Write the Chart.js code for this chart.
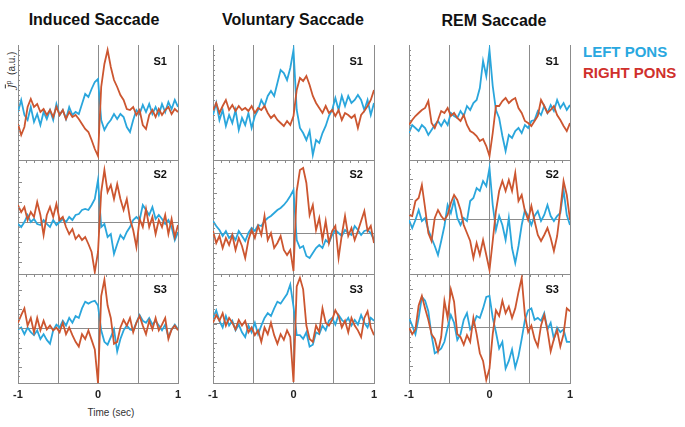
<!DOCTYPE html>
<html>
<head>
<meta charset="utf-8">
<script src="https://cdn.jsdelivr.net/npm/chart.js@4.4.0/dist/chart.umd.min.js"></script>
<style>
  body { margin: 0; background: #fff; font-family: Arial, "Liberation Sans", sans-serif; }
  #wrap { position: relative; width: 685px; height: 427px; overflow: hidden; }
  #wrap canvas { position: absolute; }
  .txt { position: absolute; white-space: nowrap; line-height: 1; }
  .title { font-size: 16px; font-weight: bold; color: #111; transform: translate(-50%, -50%); }
  .sl { font-size: 11px; font-weight: bold; color: #111; transform: translate(-100%, -50%); }
  .leg { font-size: 15px; font-weight: bold; transform: translateY(-50%); }
</style>
</head>
<body>
<div id="wrap">
  <div class="txt title" style="left:94px; top:20px;">Induced Saccade</div>
  <div class="txt title" style="left:293px; top:20px;">Voluntary Saccade</div>
  <div class="txt title" style="left:494px; top:21px;">REM Saccade</div>

  <div class="txt leg" style="left:583px; top:51px; color:#29a8e0;">LEFT PONS</div>
  <div class="txt leg" style="left:583px; top:72px; color:#d0302c;">RIGHT PONS</div>

  <div class="txt" style="left:11px; top:70px; transform:translate(-50%,-50%) rotate(-90deg); font-size:10px; color:#333;">
    <i style="text-decoration:overline; font-family:'DejaVu Serif',serif;">J</i><sup style="font-size:7px;">p</sup>&nbsp;&nbsp;(a.u.)
  </div>
  <div class="txt" style="left:111px; top:413px; transform:translate(-50%,-50%); font-size:10px; color:#333;">Time (sec)</div>
</div>

<script>
// time axis (sec)
const TIME = [-1, -0.96, -0.92, -0.88, -0.84, -0.8, -0.76, -0.72, -0.68, -0.64,
  -0.6, -0.56, -0.52, -0.48, -0.44, -0.4, -0.36, -0.32, -0.28, -0.24,
  -0.2, -0.16, -0.12, -0.08, -0.04, 0, 0.04, 0.08, 0.12, 0.16,
  0.2, 0.24, 0.28, 0.32, 0.36, 0.4, 0.44, 0.48, 0.52, 0.56,
  0.6, 0.64, 0.68, 0.72, 0.76, 0.8, 0.84, 0.88, 0.92, 0.96, 1];

const COLUMNS = ['Induced Saccade', 'Voluntary Saccade', 'REM Saccade'];
const SUBJECTS = ['S1', 'S2', 'S3'];

// Induced saccade
const INDUCED_S1_RIGHT = [-11,-22,-14,6,14,6,9,1,4,-2, 3,-4,6,-2,3,-6,1,-4,-2,-6, -11,-16,-19,-27,-36,-43,26,49,63,46, 33,26,18,13,4,3,6,-2,3,-12, -16,-2,3,-4,4,-2,3,6,-1,4, 1];
const INDUCED_S1_LEFT  = [1,13,-2,-7,6,-9,-1,-12,1,-6, 3,-7,9,-2,3,-6,6,-2,1,-1, 9,19,16,24,31,34,-7,-17,-11,-7, -1,-6,-1,-4,-14,-19,-7,3,-1,8, 1,9,-1,6,-2,9,1,11,4,13, 6];
const INDUCED_S2_RIGHT = [17,10,15,2,10,5,20,7,-13,7, 15,5,18,2,5,-5,-12,-7,-17,-13, -18,-15,-22,-30,-50,-30,30,52,30,37, 23,38,23,12,23,3,-8,-25,3,-5, 13,-5,5,-12,2,-5,7,-12,3,-15, -3];
const INDUCED_S2_LEFT  = [-2,-5,0,7,0,3,-2,-3,2,-2, -5,2,-3,0,3,0,5,2,7,8, 12,13,12,17,23,42,-5,-2,-15,-12, -32,-22,-13,-17,-10,-5,2,5,2,17, 12,7,15,3,7,3,-2,2,-5,-18, -10];
const INDUCED_S3_RIGHT = [6,14,21,3,11,-4,11,-2,8,-1, 3,-2,1,-4,6,-6,1,-7,-14,-19, -6,-11,-2,-12,-22,-57,34,51,24,11, -16,-14,1,9,3,11,-4,6,13,3, -6,8,-1,11,-2,4,11,-11,-1,3, -2];
const INDUCED_S3_LEFT  = [-1,1,-6,1,-4,-7,-2,-11,-6,-12, -16,-2,4,1,8,3,11,6,13,11, 21,28,26,28,29,24,-2,-14,-17,-9, -1,-24,-11,-2,3,-1,-2,6,14,8, 6,11,4,8,3,-2,4,-9,-1,4, -1];

// Voluntary saccade
const VOLUNTARY_S1_RIGHT = [-1,6,-4,3,9,-1,4,-2,3,-1, 1,-2,3,-4,1,-1,3,-4,-9,-6, -11,-14,-17,-12,-16,-7,19,31,28,33, 24,13,6,1,-4,3,-4,-1,-7,-1, -11,-4,-6,-9,-6,-19,-6,-2,3,9, 19];
const VOLUNTARY_S1_LEFT  = [-6,6,-11,-1,-17,-6,-14,-1,-21,-9, -16,-4,-19,-7,-1,9,3,13,18,13, 26,39,36,29,41,59,-1,-19,-24,-31, -22,-46,-31,-34,-24,-17,-7,-1,11,-1, 13,3,13,6,9,14,9,-1,9,-6, 6];
const VOLUNTARY_S2_RIGHT = [2,-10,-3,-15,-5,-12,-2,-17,-5,-13, -25,-7,3,-5,7,-2,17,-7,0,-15, -10,-3,-17,-22,-17,-38,42,63,65,50, 18,28,3,15,-7,12,-10,2,7,-25, -2,17,-3,5,-7,2,12,22,2,7, -10];
const VOLUNTARY_S2_LEFT  = [12,7,3,-3,2,-5,-2,-7,2,-3, -8,0,5,2,8,7,12,15,17,20, 23,25,28,32,37,43,-7,-15,-13,-23, -25,-20,-15,-12,-15,-7,-10,-2,3,0, -3,3,0,-2,7,3,-2,2,3,0, -7];
const VOLUNTARY_S3_RIGHT = [1,9,3,11,-2,6,1,-6,4,-2, 3,-9,-4,-12,-7,-19,-4,-11,1,-12, -21,-11,-17,-7,-14,-61,39,48,36,-2, -16,-19,-2,-9,16,1,-2,4,14,8, -4,3,-9,6,-2,-7,-14,6,13,-4, -12];
const VOLUNTARY_S3_LEFT  = [6,14,3,-4,8,-2,3,-7,-1,-9, -14,-2,-9,1,-11,-2,6,11,8,16, 23,21,26,31,41,18,-12,-12,-16,-9, -24,-22,-9,-11,-2,-7,3,6,-1,9, 4,1,6,-2,4,-1,9,1,-4,6, 3];

// REM saccade
const REM_S1_RIGHT = [-6,-1,3,6,9,11,18,-4,-9,-1, 8,6,11,3,6,1,-2,4,-6,-12, -14,-17,-22,-20,-27,-37,-14,13,13,18, 21,16,19,21,11,6,-2,-4,-7,-2, 3,19,13,6,9,13,4,-1,-7,-12, -4];
const REM_S1_LEFT  = [-14,-6,-9,-12,-6,-9,-16,-11,-6,-2, -7,-1,-6,6,3,1,8,3,13,9, 16,19,31,58,43,69,33,9,1,-17, -32,-16,-19,-12,-9,-14,-6,-9,-2,-1, 8,4,13,6,14,8,19,11,16,9, 14];
const REM_S2_RIGHT = [4,3,18,21,34,11,-14,-22,1,9, 3,-1,4,16,24,19,9,-6,-14,-22, -39,-24,-36,-21,-36,-51,-22,8,28,38, 28,39,28,46,18,24,8,-1,13,-2, -16,-22,-16,-9,-19,-32,-17,9,38,24, -1];
const REM_S2_LEFT  = [-1,-9,-1,9,-2,1,-11,-19,-27,-36, -22,-7,14,6,19,1,-6,1,-2,18, 21,31,28,38,33,51,14,-11,3,-6, -21,1,-29,-44,-27,-6,9,3,-6,3, 8,-2,4,14,3,-2,3,6,29,4, -6];
const REM_S3_RIGHT = [0,-7,-2,23,33,20,8,-7,-12,-25, -10,28,10,40,27,-7,-10,-18,-8,-15, 10,-7,-27,-35,-55,-43,-7,18,12,28, 15,22,10,20,37,52,13,-5,2,-12, -20,2,13,-3,-25,-12,-3,-20,-7,20, 17];
const REM_S3_LEFT  = [10,2,-7,10,32,28,17,-8,-27,-25, -22,-15,0,13,5,-13,-7,8,15,-2, 3,12,10,20,32,33,10,-5,-22,-15, -43,-35,-23,-42,-30,-12,8,18,20,8, 10,7,15,-2,5,-12,0,-5,-2,-15, -15];

// panel frames on the page
const COL_X = [[18, 178], [213, 374], [409, 570]];
const ROW_Y = [[45, 160], [160, 274], [275, 389]];

const PANELS = [
  { col: 0, row: 0, right: INDUCED_S1_RIGHT,   left: INDUCED_S1_LEFT,   yMin: -47, yMax: 68 },
  { col: 1, row: 0, right: VOLUNTARY_S1_RIGHT, left: VOLUNTARY_S1_LEFT, yMin: -51, yMax: 64 },
  { col: 2, row: 0, right: REM_S1_RIGHT,       left: REM_S1_LEFT,       yMin: -41, yMax: 74 },
  { col: 0, row: 1, right: INDUCED_S2_RIGHT,   left: INDUCED_S2_LEFT,   yMin: -52, yMax: 62 },
  { col: 1, row: 1, right: VOLUNTARY_S2_RIGHT, left: VOLUNTARY_S2_LEFT, yMin: -41, yMax: 73 },
  { col: 2, row: 1, right: REM_S2_RIGHT,       left: REM_S2_LEFT,       yMin: -55, yMax: 59 },
  { col: 0, row: 2, right: INDUCED_S3_RIGHT,   left: INDUCED_S3_LEFT,   yMin: -58, yMax: 56 },
  { col: 1, row: 2, right: VOLUNTARY_S3_RIGHT, left: VOLUNTARY_S3_LEFT, yMin: -63, yMax: 51 },
  { col: 2, row: 2, right: REM_S3_RIGHT,       left: REM_S3_LEFT,       yMin: -59, yMax: 55 }
];

const GRID = '#8c8c8c';
const CYAN = '#2aa6dc';
const RED = '#cc5630';

// small inward ticks on the left axis, little ticks under the bottom edge
const panelTicks = {
    id: 'panelTicks',
    afterDatasetsDraw(chart, args, opts) {
        const { ctx, chartArea: a, scales: { x, y } } = chart;
        ctx.save();
        ctx.strokeStyle = GRID;
        ctx.lineWidth = 1;
        ctx.beginPath();
        y.ticks.forEach(t => {
            if (t.value <= y.min || t.value >= y.max) return;
            const py = Math.round(y.getPixelForValue(t.value)) + 0.5;
            const len = t.value % 20 === 0 ? 4 : 2;
            ctx.moveTo(a.left, py);
            ctx.lineTo(a.left + len, py);
        });
        if (opts.below) {
            for (let k = -9; k <= 9; k++) {
                const px = Math.round(x.getPixelForValue(k / 10)) + 0.5;
                ctx.moveTo(px, a.bottom);
                ctx.lineTo(px, a.bottom + 3);
            }
        }
        ctx.stroke();
        ctx.restore();
    }
};

Chart.defaults.font.family = 'Arial, "Liberation Sans", sans-serif';

const wrap = document.getElementById('wrap');

PANELS.forEach((p, n) => {
    const [x0, x1] = COL_X[p.col];
    const [y0, y1] = ROW_Y[p.row];
    const bottomRow = p.row === 2;
    const padX = 12, padT = 2, padB = 4;
    const labelH = bottomRow ? 18 : 0;

    const cv = document.createElement('canvas');
    const w = (x1 - x0) + padX * 2;
    const h = (y1 - y0) + padT + padB + labelH;
    cv.width = w;
    cv.height = h;
    cv.style.left = (x0 - padX) + 'px';
    cv.style.top = (y0 - padT) + 'px';
    wrap.appendChild(cv);

    new Chart(cv, {
        type: 'line',
        data: {
            datasets: [
                {
                    label: 'RIGHT PONS',
                    data: TIME.map((t, i) => ({ x: t, y: p.right[i] })),
                    borderColor: RED,
                    borderWidth: 1.8,
                    pointRadius: 0,
                    tension: 0
                },
                {
                    label: 'LEFT PONS',
                    data: TIME.map((t, i) => ({ x: t, y: p.left[i] })),
                    borderColor: CYAN,
                    borderWidth: 1.8,
                    pointRadius: 0,
                    tension: 0
                }
            ]
        },
        options: {
            responsive: false,
            animation: false,
            devicePixelRatio: 1,
            layout: { padding: { left: padX, right: padX, top: padT, bottom: padB } },
            plugins: {
                legend: { display: false },
                tooltip: { enabled: false },
                panelTicks: { below: !bottomRow }
            },
            scales: {
                x: {
                    type: 'linear',
                    min: -1,
                    max: 1,
                    ticks: {
                        display: bottomRow,
                        stepSize: 0.5,
                        autoSkip: false,
                        maxRotation: 0,
                        padding: 5,
                        color: '#222',
                        font: { size: 11, weight: 'bold' },
                        callback: v => Number.isInteger(v) ? String(v) : ''
                    },
                    grid: { color: GRID, drawTicks: false },
                    border: { display: true, color: GRID }
                },
                y: {
                    min: p.yMin,
                    max: p.yMax,
                    ticks: { display: false, stepSize: 5 },
                    grid: {
                        drawTicks: false,
                        color: ctx => (ctx.tick && ctx.tick.value === 0) ? GRID : 'rgba(0,0,0,0)'
                    },
                    border: { display: true, color: GRID }
                }
            }
        },
        plugins: [panelTicks]
    });

    // subject tag in the top right corner
    const tag = document.createElement('div');
    tag.className = 'txt sl';
    tag.textContent = SUBJECTS[p.row];
    tag.style.left = (x1 - 11) + 'px';
    tag.style.top = (y0 + (p.row === 0 ? 16 : 13.5)) + 'px';
    wrap.appendChild(tag);
});
</script>
</body>
</html>
